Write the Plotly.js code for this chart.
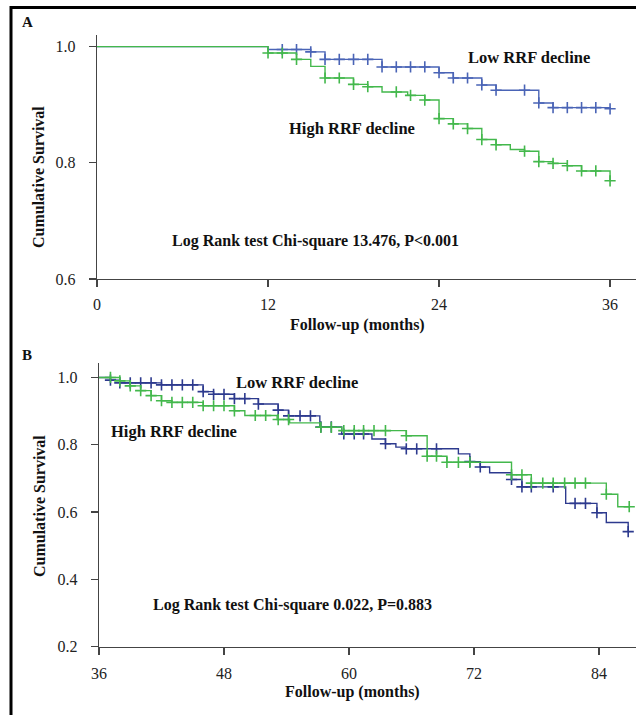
<!DOCTYPE html>
<html>
<head>
<meta charset="utf-8">
<script src="https://cdn.plot.ly/plotly-3.0.1.min.js"></script>
<style>html,body{margin:0;padding:0;background:#fff;}#chart{width:636px;height:715px;}</style>
</head>
<body>
<div id="chart"></div>
<script>
// ---------- Panel A data (0-36 months) ----------
const lowA_time = [0, 12, 15, 16, 20, 24, 25, 27, 28, 31, 32, 36];
const lowA_surv = [1.0, 0.995, 0.991, 0.978, 0.965, 0.955, 0.946, 0.934, 0.925, 0.903, 0.895, 0.893];
const lowA_censor = [13, 14, 15, 16, 17, 18, 19, 20, 21, 22, 23, 24, 25, 26, 27, 28, 30, 31, 32, 33, 34, 35, 36];

const highA_time = [0, 12, 14, 15, 16, 18, 19, 20, 21.8, 23, 24, 25, 26, 27, 28, 29, 30, 31, 32, 33, 34, 36];
const highA_surv = [1.0, 0.989, 0.978, 0.966, 0.946, 0.935, 0.931, 0.922, 0.916, 0.908, 0.876, 0.867, 0.859, 0.840, 0.831, 0.823, 0.820, 0.802, 0.799, 0.795, 0.786, 0.769];
const highA_censor = [12, 13, 14, 16, 17, 18, 19, 21, 22, 23, 24, 25, 26, 27, 28, 30, 31, 32, 33, 34, 35, 36];

// ---------- Panel B data (36-87 months) ----------
const lowB_time = [36, 37.1, 38, 42, 46, 47, 49, 51.3, 53.2, 54.2, 57.2, 59.3, 62.2, 63.5, 64.5, 65.5, 70.5, 71.6, 72.6, 73.5, 75.6, 76.6, 80.8, 83.8, 84.7, 86.8];
const lowB_surv = [1.0, 0.992, 0.984, 0.978, 0.958, 0.950, 0.937, 0.921, 0.903, 0.886, 0.853, 0.832, 0.817, 0.803, 0.793, 0.788, 0.773, 0.750, 0.734, 0.717, 0.697, 0.675, 0.626, 0.598, 0.569, 0.542];
const lowB_censor = [37.1, 38, 39, 40, 41, 42, 43, 44, 45, 46, 47, 48, 49, 50, 51.3, 53.2, 54.2, 55.3, 56.3, 57.3, 58.3, 59.5, 60.5, 61.4, 63.5, 65.5, 66.5, 68.4, 71.6, 72.6, 75.6, 76.6, 77.5, 79.6, 81.7, 82.7, 83.8, 86.8];

const highB_time = [36, 38, 39, 40, 41, 42, 43, 46, 49, 50, 53.1, 54.3, 57.2, 59.3, 65.5, 67.5, 69.4, 75.6, 77.5, 84.7, 85.8];
const highB_surv = [1.0, 0.990, 0.975, 0.961, 0.946, 0.931, 0.926, 0.916, 0.901, 0.887, 0.875, 0.865, 0.852, 0.842, 0.827, 0.766, 0.748, 0.711, 0.686, 0.653, 0.616];
const highB_censor = [37.1, 38, 39, 40, 41, 42, 43, 44, 45, 46, 47, 48, 49, 51, 52, 53.2, 54.2, 57.3, 58.3, 59.5, 60.5, 61.4, 62.4, 63.5, 65.5, 67.5, 68.4, 69.4, 70.5, 71.6, 75.6, 76.6, 77.5, 78.6, 79.6, 80.7, 81.7, 82.7, 84.7, 86.9];

// ---------- Labels ----------
const groupLow = "Low RRF decline";
const groupHigh = "High RRF decline";
const testA = "Log Rank test Chi-square 13.476, P<0.001";
const testB = "Log Rank test Chi-square 0.022, P=0.883";
const yTitle = "Cumulative Survival";
const xTitle = "Follow-up (months)";
const ticksAx = [0, 12, 24, 36];
const ticksAy = [0.6, 0.8, 1.0];
const ticksBx = [36, 48, 60, 72, 84];
const ticksBy = [0.2, 0.4, 0.6, 0.8, 1.0];

// ---------- Styling ----------
const W = 636, H = 715;
const GREEN = "#43b84c";
const BLUE_A = "#4a64b6";
const BLUE_B = "#2d3a8e";
const SERIF = "'Liberation Serif', 'Times New Roman', Times, serif";

function stepAt(times, surv, t) {
  let v = surv[0];
  for (let i = 0; i < times.length; i++) if (times[i] <= t) v = surv[i];
  return v;
}
function px(x) { return x / W; }
function py(y) { return 1 - y / H; }

function curve(times, surv, censor, color, xa, ya, lastT) {
  const xs = times.slice(), ys = surv.slice();
  if (lastT > xs[xs.length - 1]) { xs.push(lastT); ys.push(ys[ys.length - 1]); }
  return [
    { x: xs, y: ys, xaxis: xa, yaxis: ya, type: "scatter", mode: "lines",
      line: { shape: "hv", color: color, width: 1.4 }, hoverinfo: "skip", showlegend: false },
    { x: censor, y: censor.map(t => stepAt(times, surv, t)), xaxis: xa, yaxis: ya,
      type: "scatter", mode: "markers", cliponaxis: false,
      marker: { symbol: "cross-thin", size: 8, color: color, line: { color: color, width: 1.6 } },
      hoverinfo: "skip", showlegend: false }
  ];
}

const data = [].concat(
  curve(lowA_time, lowA_surv, lowA_censor, BLUE_A, "x", "y", 36),
  curve(highA_time, highA_surv, highA_censor, GREEN, "x", "y", 36),
  curve(lowB_time, lowB_surv, lowB_censor, BLUE_B, "x2", "y2", 86.9),
  curve(highB_time, highB_surv, highB_censor, GREEN, "x2", "y2", 86.9)
);

const axisCommon = {
  showline: true, linecolor: "#444", linewidth: 1.2, showgrid: false, zeroline: false,
  ticks: "outside", ticklen: 7, tickwidth: 1.2, tickcolor: "#444",
  tickfont: { family: SERIF, size: 16, color: "#222" }, fixedrange: true
};

const layout = {
  width: W, height: H,
  margin: { l: 0, r: 0, t: 0, b: 0 },
  paper_bgcolor: "#fff", plot_bgcolor: "#fff",
  showlegend: false,
  xaxis: Object.assign({}, axisCommon, { domain: [px(97), 1], range: [0, 37.82], tickvals: ticksAx, anchor: "y", ticklabelstandoff: 4 }),
  yaxis: Object.assign({}, axisCommon, { domain: [py(279), py(35)], range: [0.6, 1.02], tickvals: ticksAy, tickformat: ".1f", anchor: "x", ticklabelstandoff: 10 }),
  xaxis2: Object.assign({}, axisCommon, { domain: [px(99), 1], range: [36, 87.55], tickvals: ticksBx, anchor: "y2", ticklabelstandoff: 5 }),
  yaxis2: Object.assign({}, axisCommon, { domain: [py(646.7), py(363)], range: [0.2, 1.043], tickvals: ticksBy, tickformat: ".1f", anchor: "x2", ticklabelstandoff: 10 }),
  shapes: [
    { type: "path", xref: "paper", yref: "paper",
      path: "M " + px(11) + " " + py(716) + " L " + px(11) + " " + py(7.5) + " L " + px(640) + " " + py(7.5),
      line: { color: "#000", width: 3 } }
  ],
  annotations: []
};

function ann(text, x, y, size, angle) {
  layout.annotations.push({
    text: "<b>" + text + "</b>", xref: "paper", yref: "paper", x: px(x), y: py(y),
    xanchor: "center", yanchor: "middle", showarrow: false, textangle: angle || 0,
    font: { family: SERIF, size: size, color: "#111" }
  });
}
ann("A", 27, 22, 15);
ann("B", 27, 355, 15);
ann(yTitle, 38, 177, 16, -90);
ann(yTitle, 39, 506, 16, -90);
ann(xTitle, 357, 325, 16);
ann(xTitle, 352, 692, 16);
ann(groupLow, 529, 58, 16.5);
ann(groupHigh, 352, 129, 16.5);
ann(testA, 315, 241, 16);
ann(groupLow, 297, 382, 16.5);
ann(groupHigh, 174, 431, 16.5);
ann(testB, 292, 605, 16);

Plotly.newPlot("chart", data, layout, { staticPlot: true, displayModeBar: false });
</script>
</body>
</html>
